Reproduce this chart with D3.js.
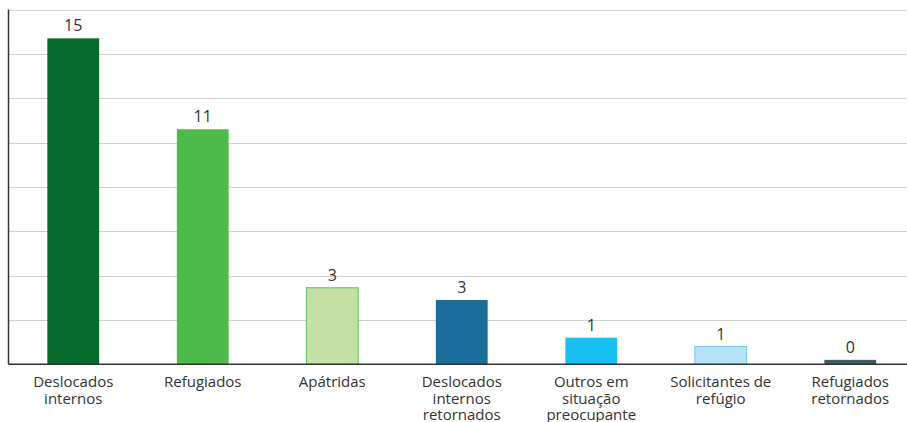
<!DOCTYPE html>
<html>
<head>
<meta charset="utf-8">
<script src="https://cdn.jsdelivr.net/npm/d3@7"></script>
<style>
  body { margin: 0; background: #fff; }
  text { font-family: "Open Sans", "Noto Sans", sans-serif; fill: #333; }
</style>
</head>
<body>
<script>
// data
var categories = ["Deslocados internos", "Refugiados", "Apátridas", "Deslocados internos retornados",
                  "Outros em situação preocupante", "Solicitantes de refúgio", "Refugiados retornados"];
var labelLines = [["Deslocados", "internos"], ["Refugiados"], ["Apátridas"], ["Deslocados", "internos", "retornados"],
                  ["Outros em", "situação", "preocupante"], ["Solicitantes de", "refúgio"], ["Refugiados", "retornados"]];
var values = [14.7, 10.6, 3.45, 2.9, 1.2, 0.8, 0.2];
var fills = ["#066b2d", "#4dbb4a", "#c5e0a5", "#1b6d9c", "#17c0f0", "#b6e3f8", "#3f5a62"];
var strokes = ["none", "none", "#5bbf57", "none", "none", "#7cc6ea", "none"];
var gridTicks = [0, 2, 4, 6, 8, 10, 12, 14, 16];

var width = 907, height = 422;
var marginLeft = 8.5, plotTop = 9.5, plotBottom = 364.3;

var svg = d3.select("body").append("svg")
  .attr("width", width)
  .attr("height", height);

var x = d3.scaleBand()
  .domain(categories)
  .range([marginLeft, marginLeft + 7 * 129.5])
  .paddingInner(0.6)
  .paddingOuter(0.3);

var y = d3.scaleLinear()
  .domain([0, 16])
  .range([plotBottom, plotTop]);

// gridlines
svg.append("g").selectAll("line")
  .data(gridTicks.slice(1))
  .enter().append("line")
  .attr("x1", marginLeft).attr("x2", width)
  .attr("y1", function(d) { return Math.round(y(d)) + 0.5; })
  .attr("y2", function(d) { return Math.round(y(d)) + 0.5; })
  .attr("stroke", "#d2d2d2")
  .attr("stroke-width", 1.2);

// bars
svg.append("g").selectAll("rect")
  .data(values)
  .enter().append("rect")
  .attr("x", function(d, i) { return x(categories[i]); })
  .attr("y", function(d) { return y(d); })
  .attr("width", x.bandwidth())
  .attr("height", function(d) { return y(0) - y(d); })
  .attr("fill", function(d, i) { return fills[i]; })
  .attr("stroke", function(d, i) { return strokes[i]; })
  .attr("stroke-width", 1);

// value labels
svg.append("g").selectAll("text")
  .data(values)
  .enter().append("text")
  .attr("x", function(d, i) { return x(categories[i]) + x.bandwidth() / 2; })
  .attr("y", function(d) { return y(d) - 7; })
  .attr("text-anchor", "middle")
  .style("font-size", "16px")
  .text(function(d) { return d3.format(".0f")(d); });

// axes
svg.append("line")
  .attr("x1", marginLeft).attr("x2", marginLeft)
  .attr("y1", plotTop).attr("y2", plotBottom)
  .attr("stroke", "#333").attr("stroke-width", 1.5);
svg.append("line")
  .attr("x1", marginLeft).attr("x2", width)
  .attr("y1", plotBottom).attr("y2", plotBottom)
  .attr("stroke", "#333").attr("stroke-width", 1.5);

// category labels
var cat = svg.append("g").selectAll("text")
  .data(categories)
  .enter().append("text")
  .attr("text-anchor", "middle")
  .attr("x", function(d) { return x(d) + x.bandwidth() / 2; })
  .attr("y", 387)
  .style("font-size", "15px");

cat.selectAll("tspan")
  .data(function(d, i) { return labelLines[i]; })
  .enter().append("tspan")
  .attr("x", function() { return d3.select(this.parentNode).attr("x"); })
  .attr("dy", function(d, i) { return i === 0 ? 0 : 16.5; })
  .text(function(d) { return d; });
</script>
</body>
</html>
